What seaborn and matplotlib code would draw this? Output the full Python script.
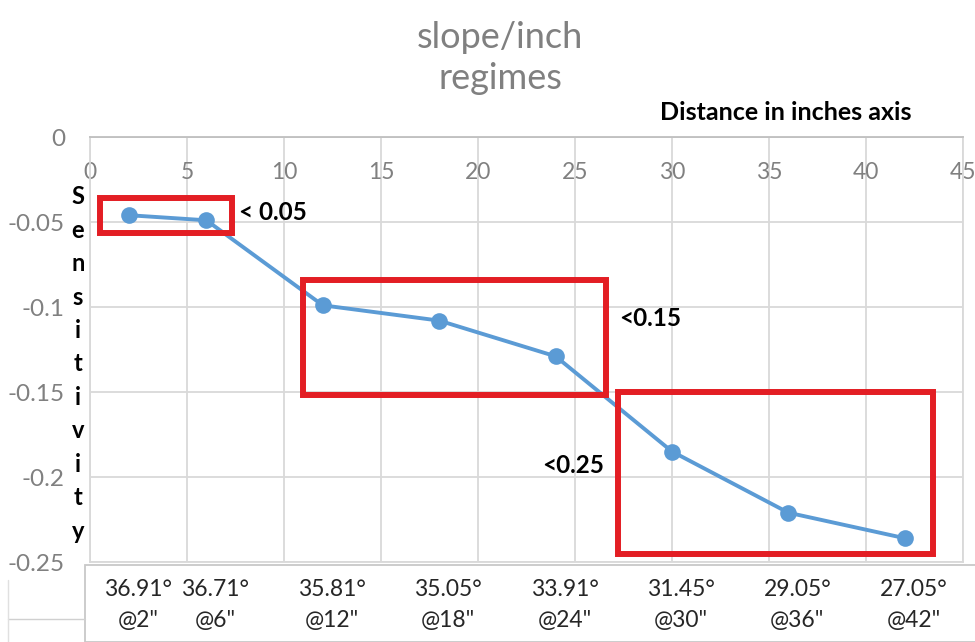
import matplotlib
matplotlib.use("Agg")
import matplotlib.pyplot as plt
from matplotlib.patches import Rectangle
from matplotlib.lines import Line2D
import seaborn as sns
import pandas as pd

# data
distance = [2, 6, 12, 18, 24, 30, 36, 42]
sensitivity = [-0.046, -0.049, -0.099, -0.108, -0.129, -0.185, -0.221, -0.236]
angle_labels = ["36.91°\n@2\"", "36.71°\n@6\"", "35.81°\n@12\"", "35.05°\n@18\"",
                "33.91°\n@24\"", "31.45°\n@30\"", "29.05°\n@36\"", "27.05°\n@42\""]
x_ticks = [0, 5, 10, 15, 20, 25, 30, 35, 40, 45]
y_ticks = [0, -0.05, -0.1, -0.15, -0.2, -0.25]
y_tick_labels = ["0", "-0.05", "-0.1", "-0.15", "-0.2", "-0.25"]

# regime boxes (x0, x1, y_top, y_bottom) and their labels
regime_boxes = [(0.5, 7.3, -0.036, -0.0565),
                (11.0, 26.6, -0.084, -0.152),
                (27.2, 43.45, -0.150, -0.2453)]
regime_labels = ["< 0.05", "<0.15", "<0.25"]
regime_label_pos = [(7.7, -0.0445), (27.3, -0.1065), (23.3, -0.193)]

df = pd.DataFrame({"distance": distance, "sensitivity": sensitivity})

sns.set_style("white")
plt.rcParams["font.family"] = ["Lato", "DejaVu Sans"]

fig = plt.figure(figsize=(9.75, 6.42), dpi=100)
ax = fig.add_axes([0.0923, 0.1246, 0.8954, 0.662])

sns.lineplot(data=df, x="distance", y="sensitivity", ax=ax, color="#5b9bd5",
             linewidth=2.8, marker="o", markersize=12, markeredgewidth=0, zorder=3)

ax.set_xlim(0, 45)
ax.set_ylim(-0.25, 0)
ax.set_xticks(x_ticks)
ax.set_yticks(y_ticks)
ax.set_yticklabels(y_tick_labels)
ax.grid(True, color="#d9d9d9", linewidth=1.3)
ax.set_xlabel("")
ax.set_ylabel("")
for side, sp in ax.spines.items():
    sp.set_color("#d9d9d9")
    sp.set_linewidth(1.3)
ax.spines["top"].set_color("#bfbfbf")

ax.tick_params(axis="x", top=True, labeltop=True, bottom=False, labelbottom=False,
               length=0, pad=-33, labelsize=16.5, labelcolor="#808080")
ax.tick_params(axis="y", length=0, pad=18, labelsize=17.5, labelcolor="#808080")

# red regime boxes
for (x0, x1, yt, yb), lab, (lx, ly) in zip(regime_boxes, regime_labels, regime_label_pos):
    ax.add_patch(Rectangle((x0, yb), x1 - x0, yt - yb, fill=False,
                           edgecolor="#e31e24", linewidth=4.3, zorder=4, clip_on=False))
    ax.text(lx, ly, lab, fontsize=17.5, fontweight="bold", color="black",
            va="center", ha="left")

# stacked y label
ax.text(-0.014, 0.466, "\n".join("Sensitivity"), transform=ax.transAxes,
        fontsize=17, fontweight="bold", color="black", ha="center", va="center",
        linespacing=1.55)

# labels table under the plot
fig.patches.append(Rectangle((85 / 975, 0), 1, 77 / 642, transform=fig.transFigure,
                             fill=False, edgecolor="#c8c8c8", linewidth=1.3))
fig.lines.append(Line2D([8 / 975, 85 / 975], [23 / 642, 23 / 642],
                        transform=fig.transFigure, color="#d0d0d0", linewidth=1))
fig.lines.append(Line2D([8 / 975, 8 / 975], [0, 62 / 642],
                        transform=fig.transFigure, color="#e0e0e0", linewidth=1))
for xv, lab in zip(distance, angle_labels):
    ax.annotate(lab, xy=(xv, 0), xycoords=("data", "figure fraction"),
                xytext=(9, 37), textcoords="offset pixels",
                ha="center", va="center", fontsize=16.5, color="#262626",
                linespacing=1.58, annotation_clip=False)

fig.text(0.513, 0.91, "slope/inch\nregimes", ha="center", va="center",
         fontsize=26, color="#808080", linespacing=1.3)
fig.text(0.806, 0.824, "Distance in inches axis", ha="center", va="center",
         fontsize=18, fontweight="bold", color="black")

fig.savefig("out.png", dpi=100, facecolor="white")
